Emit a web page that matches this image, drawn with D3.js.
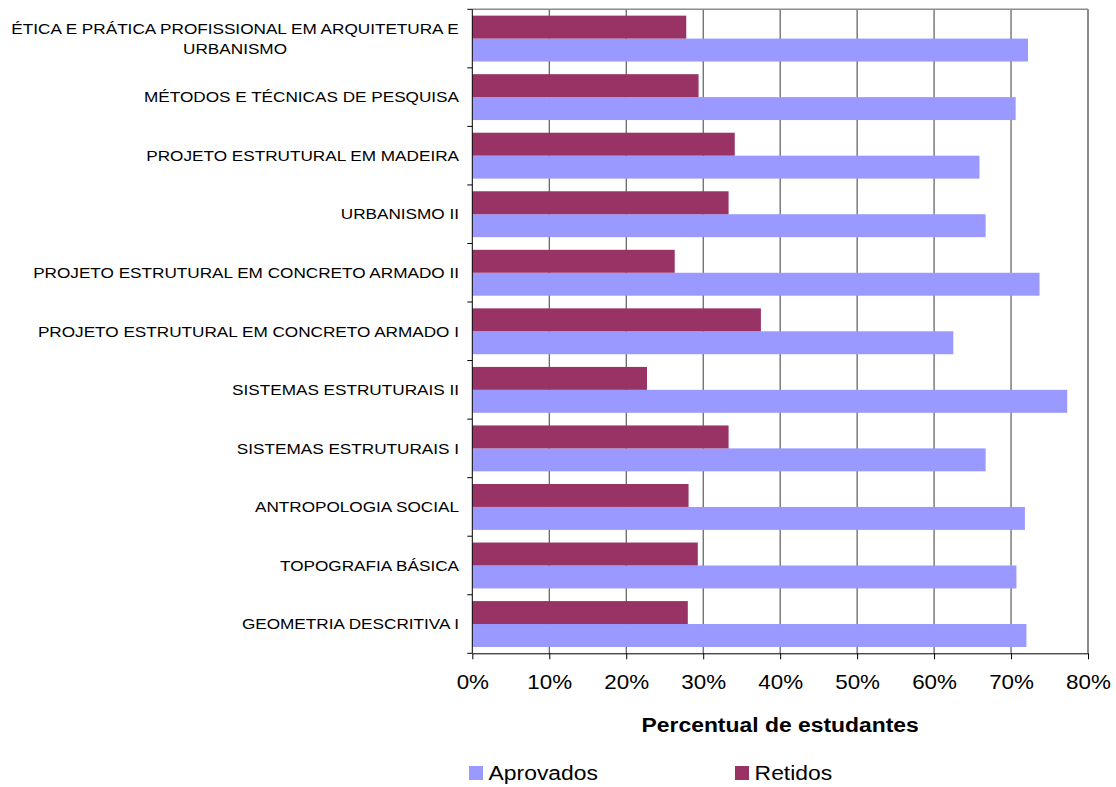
<!DOCTYPE html>
<html>
<head>
<meta charset="utf-8">
<script src="https://cdn.jsdelivr.net/npm/d3@7"></script>
<style>
  body { margin: 0; background: #fff; }
  text { font-family: "Liberation Sans", Arial, sans-serif; }
</style>
</head>
<body>
<svg width="1116" height="787"></svg>
<script>
(function() {
  // categories from top to bottom
  let categories = [
    'ÉTICA E PRÁTICA PROFISSIONAL EM ARQUITETURA E|URBANISMO',
    'MÉTODOS E TÉCNICAS DE PESQUISA',
    'PROJETO ESTRUTURAL EM MADEIRA',
    'URBANISMO II',
    'PROJETO ESTRUTURAL EM CONCRETO ARMADO II',
    'PROJETO ESTRUTURAL EM CONCRETO ARMADO I',
    'SISTEMAS ESTRUTURAIS II',
    'SISTEMAS ESTRUTURAIS I',
    'ANTROPOLOGIA SOCIAL',
    'TOPOGRAFIA BÁSICA',
    'GEOMETRIA DESCRITIVA I'
  ];
  let aprovados = [0.722, 0.706, 0.659, 0.667, 0.737, 0.625, 0.773, 0.667, 0.718, 0.707, 0.720];
  let retidos = [0.278, 0.294, 0.341, 0.333, 0.263, 0.375, 0.227, 0.333, 0.281, 0.293, 0.280];
  let xTicks = [0, 0.1, 0.2, 0.3, 0.4, 0.5, 0.6, 0.7, 0.8];
  let series = [
    { name: 'Aprovados', values: aprovados, color: '#9999ff' },
    { name: 'Retidos', values: retidos, color: '#993366' }
  ];

  let svg = d3.select('svg');
  let left = 472.3, right = 1088, top = 9.3, bottom = 653.3;

  let x = d3.scaleLinear().domain([0, 0.8]).range([left, right]);
  let y = d3.scaleBand().domain(categories).range([top, bottom]);
  let inner = d3.scaleBand().domain(['Retidos', 'Aprovados'])
    .range([0, y.bandwidth()]).paddingOuter(0.276);

  // text drawn slightly stretched horizontally, like the original
  function stretchText(parent, ax, ay, sx) {
    return parent.append('g')
      .attr('transform', 'translate(' + ax + ',' + ay + ') scale(' + sx + ',1)')
      .append('text');
  }

  // gridlines
  svg.append('g')
    .selectAll('line')
    .data(xTicks.slice(1, -1))
    .enter().append('line')
    .attr('x1', d => x(d)).attr('x2', d => x(d))
    .attr('y1', top).attr('y2', bottom)
    .attr('stroke', '#3a3a3a').attr('stroke-width', 1);

  // bars
  series.forEach(function(s) {
    svg.append('g')
      .selectAll('rect')
      .data(s.values)
      .enter().append('rect')
      .attr('x', x(0))
      .attr('y', (d, i) => y(categories[i]) + inner(s.name))
      .attr('width', d => x(d) - x(0))
      .attr('height', inner.bandwidth())
      .attr('fill', s.color);
  });

  // frame top / right
  svg.append('line').attr('x1', left).attr('x2', right).attr('y1', top).attr('y2', top)
    .attr('stroke', '#8c8c8c').attr('stroke-width', 1.5);
  svg.append('line').attr('x1', right).attr('x2', right).attr('y1', top).attr('y2', bottom)
    .attr('stroke', '#8c8c8c').attr('stroke-width', 2);

  // x axis
  let xAxis = svg.append('g')
    .attr('transform', 'translate(0,' + bottom + ')')
    .call(d3.axisBottom(x).tickValues(xTicks).tickFormat(d3.format('.0%'))
      .tickSizeInner(6).tickSizeOuter(0).tickPadding(16));
  xAxis.select('.domain').attr('stroke', '#000');
  xAxis.selectAll('.tick line').attr('stroke', '#000');
  xAxis.selectAll('text').attr('font-size', 20).attr('fill', '#000')
    .attr('font-family', '"Liberation Sans", Arial, sans-serif')
    .attr('transform', 'scale(1.12,1)');

  // y axis with ticks at band boundaries
  svg.append('line').attr('x1', left).attr('x2', left).attr('y1', top).attr('y2', bottom)
    .attr('stroke', '#000');
  let bounds = categories.map(c => y(c)).concat([bottom]);
  svg.append('g').selectAll('line').data(bounds).enter().append('line')
    .attr('x1', left - 5).attr('x2', left).attr('y1', d => d).attr('y2', d => d)
    .attr('stroke', '#000');

  // category labels
  let labelSize = 15, labelSx = 1.145, labelRight = 459;
  categories.forEach(function(c) {
    let lines = c.split('|');
    let cy = y(c) + y.bandwidth() / 2;
    if (lines.length === 1) {
      stretchText(svg, labelRight, cy, labelSx)
        .attr('font-size', labelSize).attr('dy', '0.35em')
        .attr('text-anchor', 'end').text(c);
    } else {
      let t = stretchText(svg, labelRight, cy, labelSx)
        .attr('font-size', labelSize).attr('text-anchor', 'middle');
      let tmp = svg.append('text').attr('font-size', labelSize).text(lines[0]);
      let w = tmp.node().getComputedTextLength();
      tmp.remove();
      lines.forEach(function(l, i) {
        t.append('tspan').attr('x', -w / 2)
          .attr('y', (i - (lines.length - 1) / 2) * 20)
          .attr('dy', '0.35em').text(l);
      });
    }
  });

  // axis title
  stretchText(svg, (left + right) / 2, 731.5, 1.09)
    .attr('text-anchor', 'middle').attr('font-size', 21).attr('font-weight', 'bold')
    .text('Percentual de estudantes');

  // legend
  let legend = svg.append('g').selectAll('g').data(series).enter().append('g')
    .attr('transform', (d, i) => 'translate(' + (469 + i * 266) + ',773)');
  legend.append('rect').attr('x', 0).attr('y', -7).attr('width', 14).attr('height', 14)
    .attr('fill', d => d.color);
  legend.append('text').attr('x', 18).attr('y', 0).attr('dy', '0.35em')
    .attr('font-size', 21).attr('transform', 'scale(1.09,1)')
    .text(d => d.name);
})();
</script>
</body>
</html>
